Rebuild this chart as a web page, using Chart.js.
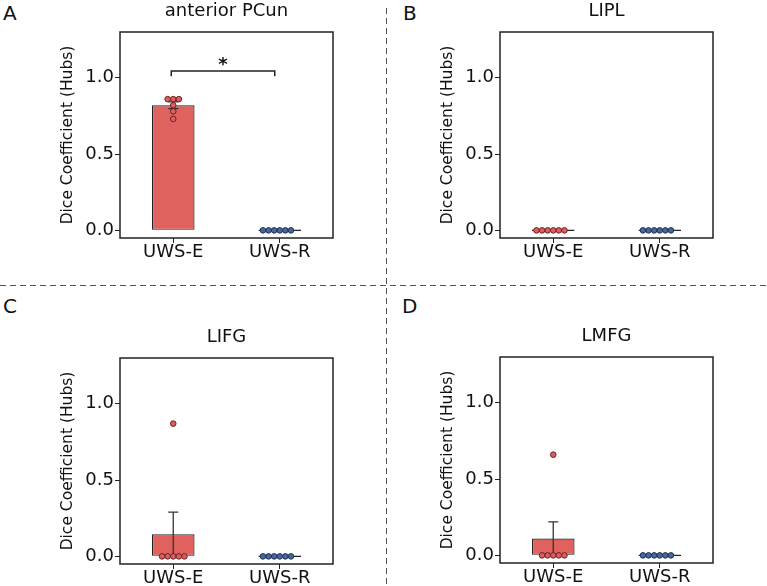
<!DOCTYPE html>
<html>
<head>
<meta charset="utf-8">
<script src="https://cdn.jsdelivr.net/npm/chart.js@4"></script>
<style>
  body { margin: 0; background: #fff; width: 767px; height: 586px; position: relative; overflow: hidden; }
  canvas { position: absolute; }
  .letter { position: absolute; font: 20px 'DejaVu Sans'; line-height: 20px; color: #111; }
  .vline { position: absolute; left: 386px; top: 8px; width: 1px; height: 578px;
    background: repeating-linear-gradient(to bottom, #555 0 6px, transparent 6px 10px); }
  .hline { position: absolute; left: 0; top: 285px; width: 767px; height: 1px;
    background: repeating-linear-gradient(to right, #555 0 6px, transparent 6px 10px); }
</style>
</head>
<body>
<div class="vline"></div>
<div class="hline"></div>
<div class="letter" style="left:3px;top:3px">A</div>
<div class="letter" style="left:403px;top:3px">B</div>
<div class="letter" style="left:3px;top:296px">C</div>
<div class="letter" style="left:402px;top:296px">D</div>
<canvas id="pA" width="380" height="285" style="left:0;top:0"></canvas>
<canvas id="pB" width="380" height="285" style="left:380px;top:0"></canvas>
<canvas id="pC" width="380" height="285" style="left:0;top:326px"></canvas>
<canvas id="pD" width="380" height="285" style="left:380px;top:325px"></canvas>
<script>
const groups = ['UWS-E', 'UWS-R'];
const yTicks = [0, 0.5, 1.0];

// anterior PCun
const pcunE = [0.86, 0.86, 0.86, 0.82, 0.78, 0.73];
const pcunR = [0, 0, 0, 0, 0, 0];
const pcunMean = [0.82, 0];
const pcunSE = [0.022, 0];
const pcunSig = '*';

// LIPL
const liplE = [0, 0, 0, 0, 0, 0];
const liplR = [0, 0, 0, 0, 0, 0];
const liplMean = [0, 0];
const liplSE = [0, 0];

// LIFG
const lifgE = [0, 0, 0, 0, 0, 0.87];
const lifgR = [0, 0, 0, 0, 0, 0];
const lifgMean = [0.145, 0];
const lifgSE = [0.145, 0];

// LMFG
const lmfgE = [0, 0, 0, 0, 0, 0.66];
const lmfgR = [0, 0, 0, 0, 0, 0];
const lmfgMean = [0.11, 0];
const lmfgSE = [0.11, 0];

const PX_X = 106.5;  // px per category step
const PX_Y = 152.6;  // px per y unit
const DOT = 5.6;

// simple beeswarm: each dot goes as close to the centre as it can without overlap
function swarm(vals, center) {
  const placed = [];
  const idx = vals.map((v, i) => i).sort((a, b) => vals[a] - vals[b]);
  idx.forEach(i => {
    const py = vals[i] * PX_Y;
    const cands = [0];
    placed.forEach(p => {
      const dy = Math.abs(p.py - py);
      if (dy < DOT) {
        const dx = Math.sqrt(DOT * DOT - dy * dy);
        cands.push(p.px + dx, p.px - dx);
      }
    });
    cands.sort((a, b) => Math.abs(a) - Math.abs(b) || a - b);
    const px = cands.find(c => placed.every(p => Math.hypot(p.px - c, p.py - py) >= DOT - 1e-6));
    placed.push({ px, py, v: vals[i] });
  });
  return placed.map(p => ({ x: center + p.px / PX_X, y: p.v }));
}

const frame = {
  id: 'frame',
  afterDraw(chart) {
    const a = chart.chartArea, ctx = chart.ctx;
    ctx.save();
    ctx.strokeStyle = '#222';
    ctx.lineWidth = 1.5;
    ctx.strokeRect(a.left, a.top, a.right - a.left, a.bottom - a.top);
    ctx.restore();
  }
};

const errorBars = {
  id: 'errorBars',
  afterDatasetDraw(chart, args) {
    if (args.index !== 0) return;
    const ds = chart.data.datasets[0], y = chart.scales.y, ctx = chart.ctx;
    ctx.save();
    ctx.strokeStyle = '#333';
    ctx.lineWidth = 1.3;
    args.meta.data.forEach((bar, i) => {
      const e = ds.errors[i];
      if (!e) return;
      const m = ds.data[i];
      const yt = y.getPixelForValue(m + e), yb = y.getPixelForValue(m - e);
      ctx.beginPath();
      ctx.moveTo(bar.x, yb); ctx.lineTo(bar.x, yt);
      ctx.moveTo(bar.x - 5, yt); ctx.lineTo(bar.x + 5, yt);
      ctx.moveTo(bar.x - 5, yb); ctx.lineTo(bar.x + 5, yb);
      ctx.stroke();
    });
    ctx.restore();
  }
};

const bracket = {
  id: 'bracket',
  afterDraw(chart) {
    const sig = chart.options.plugins.bracket.label;
    if (!sig) return;
    const bars = chart.getDatasetMeta(0).data, y = chart.scales.y, ctx = chart.ctx;
    const x1 = bars[0].x - 2, x2 = bars[1].x - 5;
    const yTop = y.getPixelForValue(1.045), yLeg = y.getPixelForValue(1.01);
    ctx.save();
    ctx.strokeStyle = '#222';
    ctx.lineWidth = 1.5;
    ctx.beginPath();
    ctx.moveTo(x1, yLeg); ctx.lineTo(x1, yTop); ctx.lineTo(x2, yTop); ctx.lineTo(x2, yLeg);
    ctx.stroke();
    ctx.fillStyle = '#111';
    ctx.font = 'bold 18px "DejaVu Sans"';
    ctx.textAlign = 'center';
    ctx.textBaseline = 'alphabetic';
    ctx.fillText(sig, (x1 + x2) / 2, yTop - 1);
    ctx.restore();
  }
};

const tickFont = { family: 'DejaVu Sans', size: 18 };

function makePanel(id, title, eVals, rVals, means, ses, sig) {
  new Chart(document.getElementById(id), {
    type: 'bar',
    data: {
      labels: groups,
      datasets: [
        {
          type: 'bar', data: means, errors: ses, grouped: false,
          backgroundColor: '#e0625f', borderColor: '#222', borderWidth: 1.2,
          borderSkipped: false, minBarLength: 1.5,
          barPercentage: 0.4, categoryPercentage: 1, order: 1
        },
        {
          type: 'scatter', data: swarm(eVals, 0), xAxisID: 'xs',
          pointRadius: 2.8, pointBackgroundColor: '#d9605e', pointBorderColor: '#6e1f1f',
          pointBorderWidth: 1, order: 0
        },
        {
          type: 'scatter', data: swarm(rVals, 1), xAxisID: 'xs',
          pointRadius: 2.8, pointBackgroundColor: '#46689a', pointBorderColor: '#1d2f52',
          pointBorderWidth: 1, order: 0
        }
      ]
    },
    options: {
      responsive: false,
      animation: false,
      layout: { padding: { left: 56, right: 47, top: 0, bottom: 0 } },
      plugins: {
        legend: { display: false },
        tooltip: { enabled: false },
        bracket: { label: sig },
        title: {
          display: true, text: title, fullSize: false, color: '#111',
          font: { family: 'DejaVu Sans', size: 18, weight: 'normal' },
          padding: { top: 1, bottom: 9.4 }
        }
      },
      scales: {
        x: {
          type: 'category', offset: true,
          grid: { offset: false, drawOnChartArea: false, tickLength: 5, color: '#222' },
          border: { display: false },
          ticks: { font: tickFont, color: '#111', padding: -1 },
          afterFit(s) { s.height = 47; }
        },
        xs: { type: 'linear', display: false, offset: false, min: -0.5, max: 1.5 },
        y: {
          min: -0.05, max: 1.3,
          afterBuildTicks(s) { s.ticks = yTicks.map(v => ({ value: v })); },
          ticks: { font: tickFont, color: '#111', padding: 1, callback: v => v.toFixed(1) },
          grid: { drawOnChartArea: false, tickLength: 5, color: '#222' },
          border: { display: false },
          title: {
            display: true, text: 'Dice Coefficient (Hubs)', color: '#111',
            font: { family: 'DejaVu Sans', size: 15.5 }, padding: { top: 3, bottom: 0 }
          },
          afterFit(s) { s.width = 64; }
        }
      }
    },
    plugins: [frame, errorBars, bracket]
  });
}

makePanel('pA', 'anterior PCun', pcunE, pcunR, pcunMean, pcunSE, pcunSig);
makePanel('pB', 'LIPL', liplE, liplR, liplMean, liplSE, null);
makePanel('pC', 'LIFG', lifgE, lifgR, lifgMean, lifgSE, null);
makePanel('pD', 'LMFG', lmfgE, lmfgR, lmfgMean, lmfgSE, null);
</script>
</body>
</html>
